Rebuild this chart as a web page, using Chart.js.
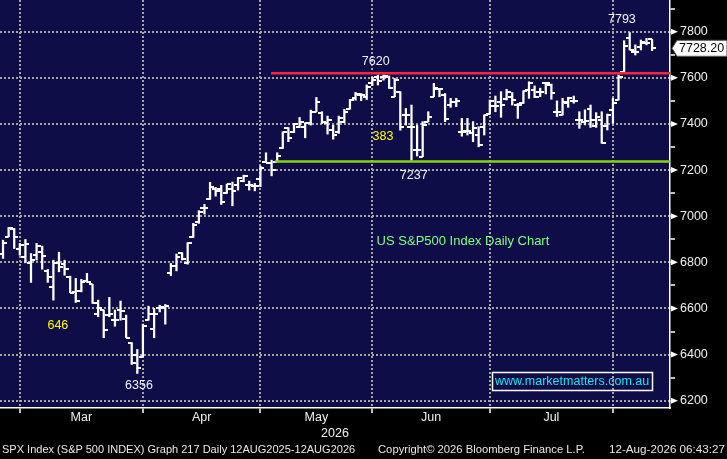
<!DOCTYPE html>
<html>
<head>
<meta charset="utf-8">
<script src="https://cdn.jsdelivr.net/npm/chart.js@4"></script>
<style>
  html, body { margin: 0; padding: 0; background: #000; }
  #wrap { position: relative; width: 727px; height: 459px; overflow: hidden; background: #000; }
  #chart { position: absolute; left: 0; top: 0; }
  .foot { position: absolute; top: 443px; color: #e8e8e8; font: 11.5px "Liberation Sans", Arial, sans-serif; white-space: nowrap; transform-origin: 0 0; }
</style>
</head>
<body>
<div id="wrap">
  <canvas id="chart" width="727" height="459"></canvas>
  <div class="foot" id="f1" data-w="353" style="left:2px">SPX Index (S&amp;P 500 INDEX) Graph 217 Daily 12AUG2025-12AUG2026</div>
  <div class="foot" id="f2" data-w="207" style="left:378px">Copyright© 2026 Bloomberg Finance L.P.</div>
  <div class="foot" id="f3" data-w="116" style="left:609px">12-Aug-2026 06:43:27</div>
</div>
<script>
// Data (one bar per trading day, late Feb to 11 Aug 2026)
const months = ["Mar", "Apr", "May", "Jun", "Jul"];
const monthStarts = [3, 25, 46, 66, 87, 109];
const yLabels = [6200, 6400, 6600, 6800, 7000, 7200, 7400, 7600, 7800];
const yMinor = [6300, 6500, 6700, 6900, 7100, 7300, 7500, 7700, 7900];

const opens = [
  6836, 6911, 6943, 6856, 6821, 6798, 6831, 6846, 6763, 6694,
  6798, 6792, 6737, 6672, 6675, 6718, 6704, 6578, 6593, 6571,
  6549, 6593, 6554, 6452, 6397, 6390, 6552, 6510, 6600, 6600,
  6752, 6784, 6839, 6795, 6908, 6976, 7037, 7073, 7120, 7120,
  7099, 7118, 7135, 7152, 7135, 7131, 7161, 7236, 7229, 7236,
  7294, 7381, 7363, 7388, 7388, 7402, 7453, 7449, 7402, 7373,
  7366, 7410, 7467, 7511, 7525, 7518, 7576, 7605, 7605, 7602,
  7518, 7540, 7438, 7385, 7287, 7258, 7410, 7518, 7550, 7525,
  7482, 7496, 7366, 7369, 7362, 7352, 7388, 7442, 7478, 7497,
  7507, 7518, 7482, 7489, 7547, 7547, 7540, 7576, 7569, 7453,
  7439, 7489, 7501, 7417, 7410, 7463, 7391, 7417, 7391, 7461,
  7504, 7627, 7771, 7714, 7732, 7753, 7767
];
const highs = [
  6896, 6951, 6947, 6882, 6899, 6838, 6882, 6870, 6769, 6809,
  6844, 6809, 6740, 6730, 6726, 6752, 6704, 6636, 6593, 6648,
  6593, 6632, 6571, 6452, 6422, 6532, 6610, 6600, 6614, 6617,
  6795, 6836, 6842, 6885, 6969, 7024, 7051, 7147, 7125, 7134,
  7139, 7148, 7168, 7178, 7152, 7142, 7217, 7275, 7243, 7275,
  7366, 7384, 7402, 7428, 7405, 7460, 7515, 7453, 7434, 7395,
  7434, 7463, 7506, 7537, 7532, 7569, 7602, 7612, 7612, 7608,
  7597, 7540, 7467, 7482, 7395, 7410, 7453, 7576, 7554, 7532,
  7511, 7511, 7424, 7424, 7410, 7388, 7439, 7504, 7521, 7540,
  7550, 7536, 7489, 7544, 7583, 7565, 7555, 7579, 7573, 7500,
  7511, 7516, 7521, 7453, 7461, 7482, 7449, 7453, 7443, 7511,
  7612, 7761, 7796, 7743, 7764, 7771, 7767
];
const lows = [
  6817, 6911, 6860, 6831, 6798, 6713, 6810, 6770, 6713, 6636,
  6759, 6744, 6668, 6626, 6672, 6713, 6622, 6564, 6473, 6564,
  6523, 6549, 6474, 6357, 6318, 6390, 6549, 6473, 6585, 6532,
  6742, 6763, 6810, 6792, 6908, 6969, 7009, 7073, 7087, 7051,
  7099, 7045, 7113, 7149, 7113, 7110, 7128, 7232, 7175, 7236,
  7294, 7323, 7363, 7384, 7340, 7395, 7453, 7402, 7356, 7334,
  7359, 7405, 7464, 7503, 7501, 7506, 7566, 7569, 7590, 7554,
  7518, 7373, 7395, 7243, 7261, 7258, 7410, 7518, 7518, 7410,
  7472, 7475, 7347, 7352, 7323, 7301, 7352, 7442, 7453, 7429,
  7504, 7482, 7424, 7489, 7511, 7514, 7518, 7530, 7507, 7432,
  7439, 7472, 7490, 7381, 7396, 7385, 7385, 7316, 7374, 7403,
  7504, 7627, 7721, 7699, 7721, 7743, 7718
];
const closes = [
  6885, 6947, 6908, 6875, 6879, 6812, 6870, 6828, 6737, 6798,
  6781, 6773, 6668, 6632, 6716, 6713, 6622, 6604, 6506, 6575,
  6552, 6590, 6474, 6364, 6340, 6523, 6575, 6575, 6606, 6610,
  6784, 6821, 6813, 6882, 6964, 7019, 7037, 7125, 7110, 7063,
  7138, 7109, 7167, 7174, 7135, 7131, 7207, 7232, 7200, 7261,
  7363, 7337, 7398, 7410, 7403, 7453, 7496, 7410, 7417, 7352,
  7424, 7453, 7503, 7528, 7525, 7561, 7590, 7587, 7608, 7554,
  7590, 7388, 7438, 7388, 7287, 7395, 7431, 7554, 7550, 7420,
  7496, 7500, 7366, 7369, 7381, 7308, 7439, 7500, 7478, 7482,
  7540, 7504, 7482, 7544, 7576, 7518, 7540, 7576, 7533, 7453,
  7497, 7511, 7501, 7417, 7414, 7417, 7429, 7316, 7439, 7492,
  7602, 7738, 7721, 7714, 7757, 7753, 7728.20
];

// Drawn levels: price and the bar they start from
const resistance = 7620, resistanceFrom = 47.9;
const support = 7237, supportFrom = 48.6;
const lastPrice = 7728.20;

// Notes written on the chart, placed in bar / price units
const notes = [
  { text: "7620", x: 66.6, y: 7671, color: "#f0f4ff" },
  { text: "383", x: 67.9, y: 7347, color: "#ffff00" },
  { text: "7237", x: 73.4, y: 7176, color: "#f0f4ff" },
  { text: "7793", x: 110.6, y: 7851, color: "#f0f4ff" },
  { text: "646", x: 9.8, y: 6528, color: "#ffff00" },
  { text: "6356", x: 24.3, y: 6264, color: "#f0f4ff" },
  { text: "US S&P500 Index Daily Chart", x: 82.2, y: 6892, color: "#80ff80", size: 13 }
];
const site = { text: "www.marketmatters.com.au", x: 101.7, y: 6284 };

const FONT = '"Liberation Sans", Arial, sans-serif';
const NAVY = "rgb(15,13,72)";
const GRID = "#a4a4a4";

// small images used as open (left) and close (right) ticks
function tickImage(left) {
  const c = document.createElement("canvas");
  c.width = 8;
  c.height = 2;
  const g = c.getContext("2d");
  g.fillStyle = "#ffffff";
  g.fillRect(left ? 0 : 4, 0, 4, 2);
  return c;
}

const monthMids = months.map((m, i) => (monthStarts[i] + monthStarts[i + 1]) / 2);

function noPadding(s) {
  s.paddingTop = 0;
  s.paddingBottom = 0;
  s.paddingLeft = 0;
  s.paddingRight = 0;
}

const background = {
  id: "background",
  beforeDraw(chart) {
    const { ctx, chartArea: a } = chart;
    ctx.save();
    ctx.fillStyle = "#000";
    ctx.fillRect(0, 0, chart.width, chart.height);
    ctx.fillStyle = NAVY;
    ctx.fillRect(a.left, a.top, a.right - a.left, a.bottom - a.top);
    ctx.restore();
  }
};

const extras = {
  id: "extras",
  afterDraw(chart) {
    const { ctx, scales } = chart;
    const xs = scales.x, ys = scales.y;
    ctx.save();
    // arrows at labelled price ticks
    ctx.fillStyle = "#ffffff";
    yLabels.forEach((v) => {
      const y = ys.getPixelForValue(v);
      ctx.beginPath();
      ctx.moveTo(ys.left + 1, y - 3);
      ctx.lineTo(ys.left + 8, y);
      ctx.lineTo(ys.left + 1, y + 3);
      ctx.closePath();
      ctx.fill();
    });
    // notes
    ctx.textAlign = "center";
    ctx.textBaseline = "middle";
    notes.forEach((n) => {
      ctx.font = (n.size || 12.5) + "px " + FONT;
      ctx.fillStyle = n.color;
      ctx.fillText(n.text, xs.getPixelForValue(n.x), ys.getPixelForValue(n.y));
    });
    // site box
    ctx.font = "12.5px " + FONT;
    const sx = xs.getPixelForValue(site.x), sy = ys.getPixelForValue(site.y);
    const w = ctx.measureText(site.text).width;
    ctx.fillStyle = "#19e4f2";
    ctx.fillText(site.text, sx, sy);
    ctx.strokeStyle = "#ffffff";
    ctx.lineWidth = 1.5;
    ctx.strokeRect(Math.round(sx - w / 2 - 3) + 0.5, Math.round(sy - 9) + 0.5, Math.round(w + 6), 18);
    // last price tag
    const py = ys.getPixelForValue(lastPrice);
    const x0 = ys.left + 2;
    ctx.beginPath();
    ctx.moveTo(x0, py);
    ctx.lineTo(x0 + 5, py - 8);
    ctx.lineTo(chart.width, py - 8);
    ctx.lineTo(chart.width, py + 8);
    ctx.lineTo(x0 + 5, py + 8);
    ctx.closePath();
    ctx.fillStyle = "#ffffff";
    ctx.fill();
    ctx.strokeStyle = "#555";
    ctx.lineWidth = 1;
    ctx.stroke();
    ctx.fillStyle = "#000";
    ctx.textAlign = "left";
    ctx.font = "12.5px " + FONT;
    ctx.fillText(lastPrice.toFixed(2), x0 + 7, py + 0.5);
    ctx.restore();
  }
};

new Chart(document.getElementById("chart"), {
  type: "bar",
  plugins: [background, extras],
  data: {
    datasets: [
      {
        type: "line",
        data: [{ x: resistanceFrom, y: resistance }, { x: 119.2, y: resistance }],
        borderColor: "#ff2044",
        borderWidth: 2.5,
        pointRadius: 0
      },
      {
        type: "line",
        data: [{ x: supportFrom, y: support }, { x: 119.2, y: support }],
        borderColor: "#84d40c",
        borderWidth: 2.5,
        pointRadius: 0
      },
      {
        type: "bar",
        data: lows.map((l, i) => ({ x: i, y: [l, highs[i]] })),
        backgroundColor: "#ffffff",
        borderWidth: 0,
        barThickness: 1.6,
        grouped: false
      },
      {
        type: "line",
        data: opens.map((v, i) => ({ x: i, y: v })),
        showLine: false,
        pointStyle: tickImage(true),
        pointRadius: 3
      },
      {
        type: "line",
        data: closes.map((v, i) => ({ x: i, y: v })),
        showLine: false,
        pointStyle: tickImage(false),
        pointRadius: 3
      }
    ]
  },
  options: {
    responsive: false,
    animation: false,
    events: [],
    layout: { padding: 0, autoPadding: false },
    plugins: { legend: { display: false }, tooltip: { enabled: false } },
    scales: {
      x: {
        type: "linear",
        position: "bottom",
        min: -0.54,
        max: 119.2,
        offset: false,
        afterBuildTicks(s) {
          s.ticks = monthStarts.concat(monthMids).sort((a, b) => a - b).map((v) => ({ value: v }));
        },
        afterFit(s) { s.height = 51; noPadding(s); },
        ticks: {
          autoSkip: false,
          maxRotation: 0,
          padding: -3,
          color: "#f0f0f0",
          font: { family: FONT, size: 12.5 },
          callback(v) {
            const k = monthMids.indexOf(v);
            return k >= 0 ? months[k] : "";
          }
        },
        grid: {
          offset: false,
          color: (c) => (c.tick && monthStarts.includes(c.tick.value) ? GRID : "transparent"),
          tickColor: (c) => (c.tick && monthStarts.includes(c.tick.value) ? "#ffffff" : "transparent"),
          lineWidth: 2,
          tickLength: 5,
          tickWidth: 1.5,
          tickBorderDash: []
        },
        border: { color: "#ffffff", width: 1.5, dash: [2, 2] },
        title: {
          display: true,
          text: "2026",
          color: "#f0f0f0",
          font: { family: FONT, size: 12.5 },
          padding: { top: 0, bottom: 18 }
        }
      },
      y: {
        type: "linear",
        position: "right",
        min: 6168.3,
        max: 7937.5,
        afterBuildTicks(s) {
          s.ticks = yLabels.concat(yMinor).sort((a, b) => a - b).map((v) => ({ value: v }));
        },
        afterFit(s) { s.width = 57; noPadding(s); },
        ticks: {
          padding: 5,
          color: "#f0f0f0",
          font: { family: FONT, size: 12.5 },
          callback: (v) => (yLabels.includes(v) ? String(v) : "")
        },
        grid: {
          color: (c) => (c.tick && yLabels.includes(c.tick.value) ? GRID : "transparent"),
          tickColor: "#ffffff",
          lineWidth: 2,
          tickLength: 5,
          tickWidth: 1.5,
          tickBorderDash: []
        },
        border: { color: "#ffffff", width: 1.5, dash: [2, 2] }
      }
    }
  }
});

// fit the footer strings to the widths they take in the original
document.querySelectorAll(".foot").forEach((el) => {
  const target = Number(el.dataset.w);
  const w = el.getBoundingClientRect().width;
  el.style.transform = "scaleX(" + (target / w).toFixed(3) + ")";
});
</script>
</body>
</html>
